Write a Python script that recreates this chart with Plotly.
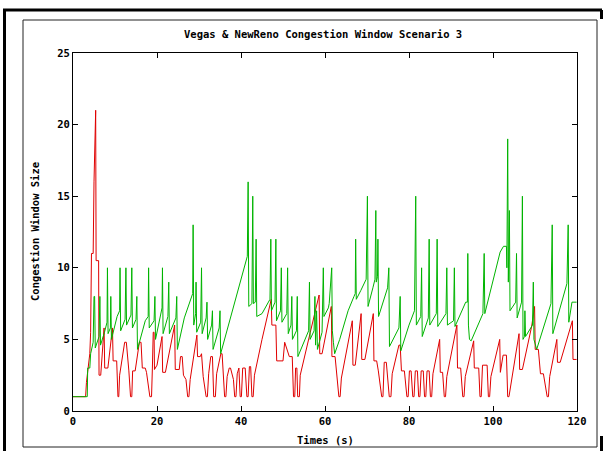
import plotly.graph_objects as go

# ---------------- data ----------------
green_t = [0, 3.4, 3.5, 4.0, 4.2, 4.8, 5.0, 5.15, 5.3, 6.2, 6.4, 6.55, 7.5, 8.1, 8.2, 8.35, 8.9, 9.0, 9.15,
           10.5, 11.1, 11.2, 11.35, 12.4, 12.6, 12.75, 13.8, 14.0, 14.15, 15.0, 15.2, 15.35, 17.2, 17.9, 18.0,
           18.15, 19.3, 19.5, 19.65, 20.8, 21.2, 21.3, 21.45, 22.6, 22.8, 22.95, 24.5, 24.7, 24.85, 26.5, 28.3,
           28.5, 28.6, 28.75, 29.2, 29.3, 29.45, 30.4, 30.6, 30.75, 31.7, 31.9, 32.05, 33.0, 33.2, 33.35, 34.8,
           35.0, 35.15, 37.0, 39.0, 39.8, 41.2, 41.5, 41.7, 41.85, 42.6, 42.8, 42.95, 43.4, 43.6, 43.75, 45.0,
           46.9, 47.1, 47.25, 48.1, 48.3, 48.45, 49.4, 49.6, 49.75, 50.9, 51.1, 51.25, 51.9, 52.1, 52.25, 53.2,
           53.4, 53.55, 55.0, 56.1, 56.3, 56.45, 57.4, 57.6, 57.75, 58.0, 58.2, 59.3, 59.6, 59.75, 60.8, 61.0,
           61.6, 61.75, 62.0, 62.3, 63.5, 65.5, 66.9, 67.2, 67.3, 67.45, 68.5, 69.8, 70.1, 70.25, 71.4, 71.9,
           72.1, 72.2, 72.5, 72.6, 72.75, 74.9, 75.2, 75.35, 77.6, 77.9, 78.05, 80.0, 81.3, 81.6, 81.75, 82.8,
           83.0, 83.15, 84.6, 84.8, 84.95, 86.5, 86.7, 86.85, 88.8, 89.0, 89.15, 90.6, 90.8, 90.95, 93.5, 93.9,
           94.0, 94.15, 94.4, 94.8, 97.6, 97.9, 98.05, 101.7, 102.5, 103.2, 103.3, 103.5, 103.65, 103.8, 103.9,
           104.05, 105.4, 105.6, 105.75, 106.8, 107.0, 107.15, 107.5, 107.6, 107.75, 109.4, 109.6, 109.75,
           110.4, 113.8, 114.1, 114.25, 117.6, 117.9, 118.05, 118.8, 119.9]
green_v = [1, 1, 3, 3, 4, 4.8, 8, 8, 4.4, 5.2, 8, 4.6, 5.5, 6.2, 10, 5.4, 5.8, 8, 5.0,
           6.6, 7, 10, 5.6, 6.4, 10, 6.0, 6.7, 10, 5.8, 6.4, 8, 4.3, 6.3, 6.6, 10,
           5.8, 6.3, 8, 5.0, 6.8, 7.2, 10, 5.4, 6.6, 9, 5.4, 6.5, 8, 4.3, 6.5, 8.0,
           8.2, 13, 6.0, 6.8, 9, 5.5, 6.2, 10, 5.4, 6.5, 7.6, 5.0, 6.0, 7, 4.3, 5.8,
           7, 4.0, 6.0, 8.0, 8.9, 10.5, 10.8, 16, 7.3, 7.5, 15, 7.5, 7.6, 12, 6.6, 6.8,
           7.8, 12, 7.0, 7.6, 12, 6.3, 7.0, 10, 6.2, 6.8, 10, 5.4, 6.0, 8, 5.0, 5.6,
           8, 3.8, 4.8, 5.6, 9, 5.0, 5.6, 8, 4.6, 7.0, 4.3, 5.5, 10, 6.6, 7.2, 7.5,
           10, 5.6, 4.8, 4.0, 5.0, 7.0, 8.0, 8.2, 12, 7.8, 8.4, 9.2, 15, 7.3, 8.6, 9.2,
           14, 9.0, 9.4, 12, 6.6, 8.6, 10, 4.5, 5.8, 8, 4.2, 6.0, 7.0, 15, 6.0, 6.6,
           10, 5.2, 6.5, 12, 6.0, 6.8, 12, 5.9, 6.8, 10, 6.0, 6.3, 10, 5.9, 7.6, 7.6,
           11, 6.0, 5.0, 4.9, 6.8, 11, 6.8, 11.1, 11.5, 11.5, 10, 19, 9, 11, 14,
           7.0, 7.6, 11, 6.5, 7.6, 15, 5.0, 5.2, 7, 5.2, 6.0, 9, 5.0,
           4.3, 7.5, 13, 5.4, 8.9, 13, 6.2, 7.6, 7.6]

red_t = [0, 3.0, 3.2, 3.6, 4.0, 4.2, 4.4, 4.8, 5.0, 5.4, 5.5, 6.1, 6.2, 6.6, 7.4, 7.55, 8.3, 9.4, 9.55, 10.4,
         10.7, 10.9, 11.1, 12.3, 12.7, 13.3, 13.7, 14.0, 14.2, 14.8, 15.8, 16.2, 16.5, 17.2, 17.5, 18.3, 18.7,
         18.9, 19.1, 19.3, 19.4, 20.0, 21.2, 21.35, 22.0, 24.2, 24.35, 25.3, 25.6, 26.0, 26.3, 26.9, 27.3,
         27.6, 27.9, 29.5, 29.65, 30.3, 30.6, 31.0, 31.7, 32.0, 32.3, 32.8, 33.2, 33.5, 33.9, 34.2, 35.2,
         35.5, 35.8, 36.1, 36.4, 36.7, 37.2, 37.5, 38.2, 38.5, 38.8, 39.1, 39.5, 39.8, 40.1, 40.4, 41.0,
         41.4, 41.7, 42.0, 42.3, 42.6, 42.9, 43.2, 45.0, 47.0, 47.2, 47.35, 48.3, 48.5, 50.0, 50.4, 51.5,
         52.2, 52.5, 52.8, 53.0, 53.3, 53.5, 53.9, 54.1, 56.5, 58.6, 58.75, 59.3, 61.5, 61.65, 62.4, 62.9,
         63.3, 63.6, 63.9, 66.5, 66.65, 67.2, 68.6, 68.75, 69.5, 71.5, 71.65, 72.3, 72.7, 73.5, 73.8, 74.1,
         74.6, 75.3, 75.7, 76.0, 77.6, 77.9, 78.2, 78.9, 79.5, 79.8, 80.1, 80.5, 80.9, 81.2, 81.5, 82.0,
         82.3, 82.6, 82.9, 83.4, 83.7, 84.0, 84.3, 84.8, 85.1, 85.4, 85.7, 87.3, 87.45, 88.0, 88.4, 88.7,
         89.0, 91.4, 91.55, 92.3, 92.8, 93.1, 93.4, 95.4, 95.55, 96.6, 96.9, 97.2, 97.5, 98.6, 98.9, 99.2,
         99.5, 101.6, 101.75, 102.4, 103.2, 103.5, 103.8, 106.2, 106.35, 107.0, 109.2, 109.9, 110.05,
         110.8, 111.3, 112.0, 112.9, 113.2, 113.5, 115.2, 115.35, 116.0, 118.9, 119.05, 119.9]
red_v = [1, 1, 2, 3, 4, 5.5, 11, 11, 16, 21, 10.5, 10.5, 2.5, 2.5, 5.8, 3.0, 3.0, 5.8, 3.5, 3.5,
         1, 1, 2.5, 4.8, 4.8, 2.8, 1, 1, 2.8, 2.8, 4.8, 4.8, 3.0, 3.0, 2.7, 1, 1,
         3, 5.5, 5.5, 2.9, 3.2, 5.2, 2.7, 2.7, 6.0, 2.9, 2.9, 3.8, 3.8, 2.5, 2.2, 1,
         1, 2.2, 5.3, 3.8, 3.8, 4.0, 2.4, 1, 1, 2.6, 3.8, 3.8, 1, 1, 2.6, 4.0,
         4.0, 2.5, 1, 1, 2.4, 3.0, 3.0, 2.2, 1, 1, 2.6, 3.0, 1, 1, 3.0, 3.0,
         1, 1, 3.1, 3.1, 1, 1, 2.5, 5.0, 7.75, 7.8, 6.0, 6.0, 3.5, 3.5, 4.8, 3.8,
         3.8, 1, 1, 3.0, 3.0, 1, 1, 2.5, 5.5, 8.1, 4.0, 4.0, 7.3, 3.8, 3.8, 2.5,
         1, 1, 2.3, 6.3, 3.2, 3.2, 6.8, 3.6, 3.6, 6.8, 3.5, 3.5, 2.8, 1, 1, 3.4,
         3.4, 1, 1, 2.6, 4.6, 4.6, 2.8, 2.8, 1, 1, 2.8, 2.8, 1, 1, 2.8, 2.8,
         1, 1, 2.8, 2.8, 1, 1, 2.8, 2.8, 1, 1, 2.6, 5.0, 2.7, 2.7, 1, 1,
         2.4, 6.0, 3.0, 3.0, 1, 1, 2.4, 4.9, 3.0, 3.0, 1, 1, 3.2, 3.2, 1, 1,
         2.4, 5.0, 2.7, 3.9, 3.9, 1, 1, 5.4, 2.9, 2.9, 5.9, 7.3, 4.3,
         4.3, 2.6, 2.6, 1, 1, 2.4, 5.0, 3.4, 3.4, 6.3, 3.6, 3.6]

x_ticks = [0, 20, 40, 60, 80, 100, 120]
y_ticks = [0, 5, 10, 15, 20, 25]

title_text = "Vegas &amp; NewReno Congestion Window Scenario 3"
x_title = "Times (s)"
y_title = "Congestion Window Size"

# ---------------- figure ----------------
W, H = 607, 451
L, R, T, B = 73, 577, 53, 411   # plot area in pixels

def px(x):
    return (x - L) / (R - L)

def py(y):
    return (B - y) / (B - T)

FONT = dict(family="DejaVu Sans Mono", size=10.5, color="black", weight="bold")

fig = go.Figure()
fig.add_trace(go.Scatter(x=red_t, y=red_v, mode="lines",
                         line=dict(color="#e00000", width=1), showlegend=False))
fig.add_trace(go.Scatter(x=green_t, y=green_v, mode="lines",
                         line=dict(color="#00b400", width=1), showlegend=False))

axis_common = dict(showline=True, linecolor="black", linewidth=1, mirror="ticks",
                   ticks="inside", ticklen=5, tickcolor="black", showgrid=False,
                   zeroline=False, tickfont=FONT)

fig.update_layout(
    width=W, height=H,
    margin=dict(l=L, r=W - R, t=T, b=H - B),
    paper_bgcolor="white", plot_bgcolor="white",
    showlegend=False,
    xaxis=dict(range=[0, 120], tickvals=x_ticks, ticktext=[str(v) for v in x_ticks], **axis_common),
    yaxis=dict(range=[0, 25], tickvals=y_ticks, ticktext=[str(v) for v in y_ticks], **axis_common),
)

# titles as annotations
fig.add_annotation(text=title_text, xref="paper", yref="paper", x=px(323), y=py(34),
                   showarrow=False, font=FONT, xanchor="center", yanchor="middle")
fig.add_annotation(text=x_title, xref="paper", yref="paper", x=px(325), y=py(440),
                   showarrow=False, font=FONT, xanchor="center", yanchor="middle")
fig.add_annotation(text=y_title, xref="paper", yref="paper", x=px(35), y=py(232),
                   showarrow=False, font=FONT, textangle=-90, xanchor="center", yanchor="middle")

# surrounding frames (screenshot borders)
shapes = []
shapes.append(dict(type="rect", xref="paper", yref="paper", x0=px(23), x1=px(597), y0=py(20), y1=py(447),
                   line=dict(color="#222222", width=1)))
shapes.append(dict(type="line", xref="paper", yref="paper", x0=px(3), x1=px(602), y0=py(10), y1=py(10),
                   line=dict(color="black", width=3)))
shapes.append(dict(type="line", xref="paper", yref="paper", x0=px(4.5), x1=px(4.5), y0=py(10), y1=py(451),
                   line=dict(color="black", width=3)))
shapes.append(dict(type="line", xref="paper", yref="paper", x0=px(601.5), x1=px(601.5), y0=py(10), y1=py(19),
                   line=dict(color="black", width=3)))
shapes.append(dict(type="line", xref="paper", yref="paper", x0=px(601.5), x1=px(601.5), y0=py(436), y1=py(451),
                   line=dict(color="black", width=3)))
fig.update_layout(shapes=shapes)

fig.write_html("out.html")
